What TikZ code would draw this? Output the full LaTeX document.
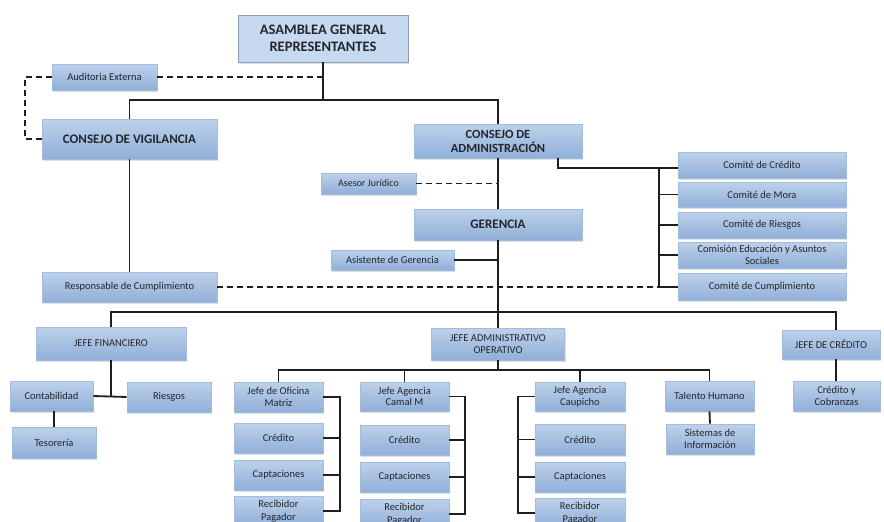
\documentclass[tikz,border=0pt]{standalone}
\usepackage{fontspec}
\setmainfont{Carlito}
\usetikzlibrary{shadows}
\definecolor{boxtop}{HTML}{BDD1EA}
\definecolor{boxbot}{HTML}{90AFD8}
\definecolor{boxborder}{HTML}{A3BCDD}
\definecolor{asamfill}{HTML}{C6D9F0}
\definecolor{asamborder}{HTML}{8A9DB5}
\definecolor{txt}{HTML}{24262D}
\definecolor{lncol}{HTML}{1E1E1E}
\newcommand\bx[7][]{\node[box,minimum width=#5pt,minimum height=#6pt,#1] (#2) at (#3,#4) {#7};}
\begin{document}
\begin{tikzpicture}[x=1pt,y=-1pt,
  box/.style={draw=boxborder, line width=0.6pt, top color=boxtop, bottom color=boxbot,
    text=txt, font=\fontsize{10.5}{12}\selectfont, align=center, inner sep=1pt,
    drop shadow={opacity=0.25, shadow xshift=1.2pt, shadow yshift=-1.5pt}},
  bigbox/.style={font=\bfseries\fontsize{13}{14.5}\selectfont},
  capbox/.style={font=\fontsize{10.5}{12}\selectfont},
  ln/.style={draw=lncol, line width=1.8pt},
  dsh/.style={draw=lncol, line width=1.6pt, dash pattern=on 6pt off 4pt}]
\useasboundingbox (0,0) rectangle (884,522);
\clip (0,0) rectangle (884,522);
% top
\node[box, draw=asamborder, top color=asamfill, bottom color=asamfill, minimum width=170pt, minimum height=47pt,
  font=\bfseries\fontsize{14.5}{17}\selectfont] (asam) at (323,38.5) {ASAMBLEA GENERAL\\REPRESENTANTES};
\bx{aud}{104.5}{77}{105}{26}{Auditoria Externa}
\bx[bigbox]{cv}{129.5}{139}{175}{40}{CONSEJO DE VIGILANCIA}
\bx[bigbox,font=\bfseries\fontsize{12.5}{14}\selectfont]{ca}{498}{141}{168}{34}{CONSEJO DE\\ADMINISTRACIÓN}
\bx[font=\fontsize{10}{12}\selectfont]{ases}{368.5}{183.5}{95}{21}{Asesor Jurídico}
\bx[bigbox]{ger}{498}{224.5}{168}{31}{GERENCIA}
\bx{asis}{392.5}{260}{123}{20}{Asistente de Gerencia}
\bx{resp}{129.5}{287}{175}{30}{Responsable de Cumplimiento}
% comites
\bx{cc1}{762}{165}{168}{26}{Comité de Crédito}
\bx{cmora}{762}{194.5}{168}{25}{Comité de Mora}
\bx{crie}{762}{225}{168}{26}{Comité de Riesgos}
\bx[font=\fontsize{10.5}{11.5}\selectfont]{cedu}{762}{255}{168}{26}{Comisión Educación y Asuntos\\Sociales}
\bx{ccum}{762}{287}{168}{27}{Comité de Cumplimiento}
% jefes
\bx[capbox]{jf}{111}{343.5}{150}{33}{JEFE FINANCIERO}
\bx[capbox,font=\fontsize{10.5}{11.5}\selectfont]{ja}{498}{344}{133}{32}{JEFE ADMINISTRATIVO\\OPERATIVO}
\bx[capbox]{jc}{831}{344.5}{98}{29}{JEFE DE CRÉDITO}
% financiero
\bx{cont}{51.5}{396}{83}{30}{Contabilidad}
\bx{ries}{169}{397}{84}{30}{Riesgos}
\bx{teso}{54}{442.5}{84}{31}{Tesorería}
% oficina matriz
\bx[font=\fontsize{10.5}{11.5}\selectfont]{om}{278.5}{397}{89}{30}{Jefe de Oficina\\Matriz}
\bx{omc}{278.5}{438}{89}{30}{Crédito}
\bx{omcap}{278.5}{475}{89}{30}{Captaciones}
\bx[font=\fontsize{10.5}{13}\selectfont]{omrec}{278.5}{511}{89}{30}{Recibidor\\Pagador}
% camal
\bx[font=\fontsize{10.5}{11.5}\selectfont]{cmc}{404.5}{396.5}{89}{29}{Jefe Agencia\\Camal M}
\bx{cmcr}{404.5}{440}{89}{30}{Crédito}
\bx{cmcap}{404.5}{477}{89}{30}{Captaciones}
\bx[font=\fontsize{10.5}{13}\selectfont]{cmrec}{404.5}{514}{89}{30}{Recibidor\\Pagador}
% caupicho
\bx[font=\fontsize{10.5}{11.5}\selectfont]{cau}{580}{396.5}{90}{29}{Jefe Agencia\\Caupicho}
\bx{caucr}{580}{439.5}{90}{31}{Crédito}
\bx{caucap}{580}{477}{90}{30}{Captaciones}
\bx[font=\fontsize{10.5}{13}\selectfont]{caurec}{580}{513}{90}{30}{Recibidor\\Pagador}
% talento
\bx{th}{709.5}{396}{89}{30}{Talento Humano}
\bx[font=\fontsize{10.5}{11.5}\selectfont]{si}{710}{439}{88}{30}{Sistemas de\\Información}
\bx[font=\fontsize{10.5}{11.5}\selectfont]{ccob}{836.5}{396}{87}{30}{Crédito y\\Cobranzas}
% coordinates
\coordinate (yA) at (0,100);
\coordinate (yB) at (0,312);
\coordinate (yC) at (0,370);
\coordinate (yD) at (0,168);
\coordinate (cax) at (558,0);
\coordinate (vx) at (659,0);
\coordinate (jcx) at (836,0);
\coordinate (dx) at (25,0);
\coordinate (b1) at (340,0);
\coordinate (b2) at (465,0);
\coordinate (b3) at (518,0);
% connectors
\draw[ln] (asam.south) -- (asam.south |- yA);
\draw[ln] (cv.north) -- (cv.north |- yA) -- (ca.north |- yA) -- (ca.north);
\draw[dsh] (aud.east) -- (aud.east -| asam.south);
\draw[dsh] (aud.west) -- (aud.west -| dx) -- (cv.west -| dx) -- (cv.west);
\draw[ln] (cv.south) -- (resp.north);
\draw[ln] (ca.south) -- (ger.north);
\draw[dsh] (ases.east) -- (ases.east -| ca.south);
\draw[ln] (ger.south) -- (ja.north);
\draw[ln] (asis.east) -- (asis.east -| ger.south);
\draw[ln] (cax |- ca.south) -- (cax |- yD) -- (cc1.west |- yD);
\draw[ln] (vx |- yD) -- (vx |- ccum.west) -- (ccum.west);
\draw[ln] (cmora.west) -- (cmora.west -| vx);
\draw[ln] (crie.west) -- (crie.west -| vx);
\draw[ln] (cedu.west) -- (cedu.west -| vx);
\draw[dsh] (resp.east) -- (resp.east -| vx);
\draw[ln] (jf.north) -- (jf.north |- yB) -- (jcx |- yB) -- (jcx |- jc.north);
\draw[ln] (jf.south) -- (jf.south |- cont.east);
\draw[ln] (cont.east) -- (ries.west);
\draw[ln] (teso.north |- cont.south) -- (teso.north);
\draw[ln] (ja.south) -- (ja.south |- yC);
\draw[ln] (om.north) -- (om.north |- yC) -- (th.north |- yC) -- (th.north);
\draw[ln] (cmc.north) -- (cmc.north |- yC);
\draw[ln] (cau.north) -- (cau.north |- yC);
\draw[ln] (om.east) -- (om.east -| b1) -- (omrec.east -| b1) -- (omrec.east);
\draw[ln] (omc.east) -- (omc.east -| b1);
\draw[ln] (omcap.east) -- (omcap.east -| b1);
\draw[ln] (cmc.east) -- (cmc.east -| b2) -- (cmrec.east -| b2) -- (cmrec.east);
\draw[ln] (cmcr.east) -- (cmcr.east -| b2);
\draw[ln] (cmcap.east) -- (cmcap.east -| b2);
\draw[ln] (cau.west) -- (cau.west -| b3) -- (caurec.west -| b3) -- (caurec.west);
\draw[ln] (caucr.west) -- (caucr.west -| b3);
\draw[ln] (caucap.west) -- (caucap.west -| b3);
\draw[ln] (th.south) -- (si.north);
\draw[ln] (jcx |- jc.south) -- (jcx |- ccob.north);
\end{tikzpicture}
\end{document}
